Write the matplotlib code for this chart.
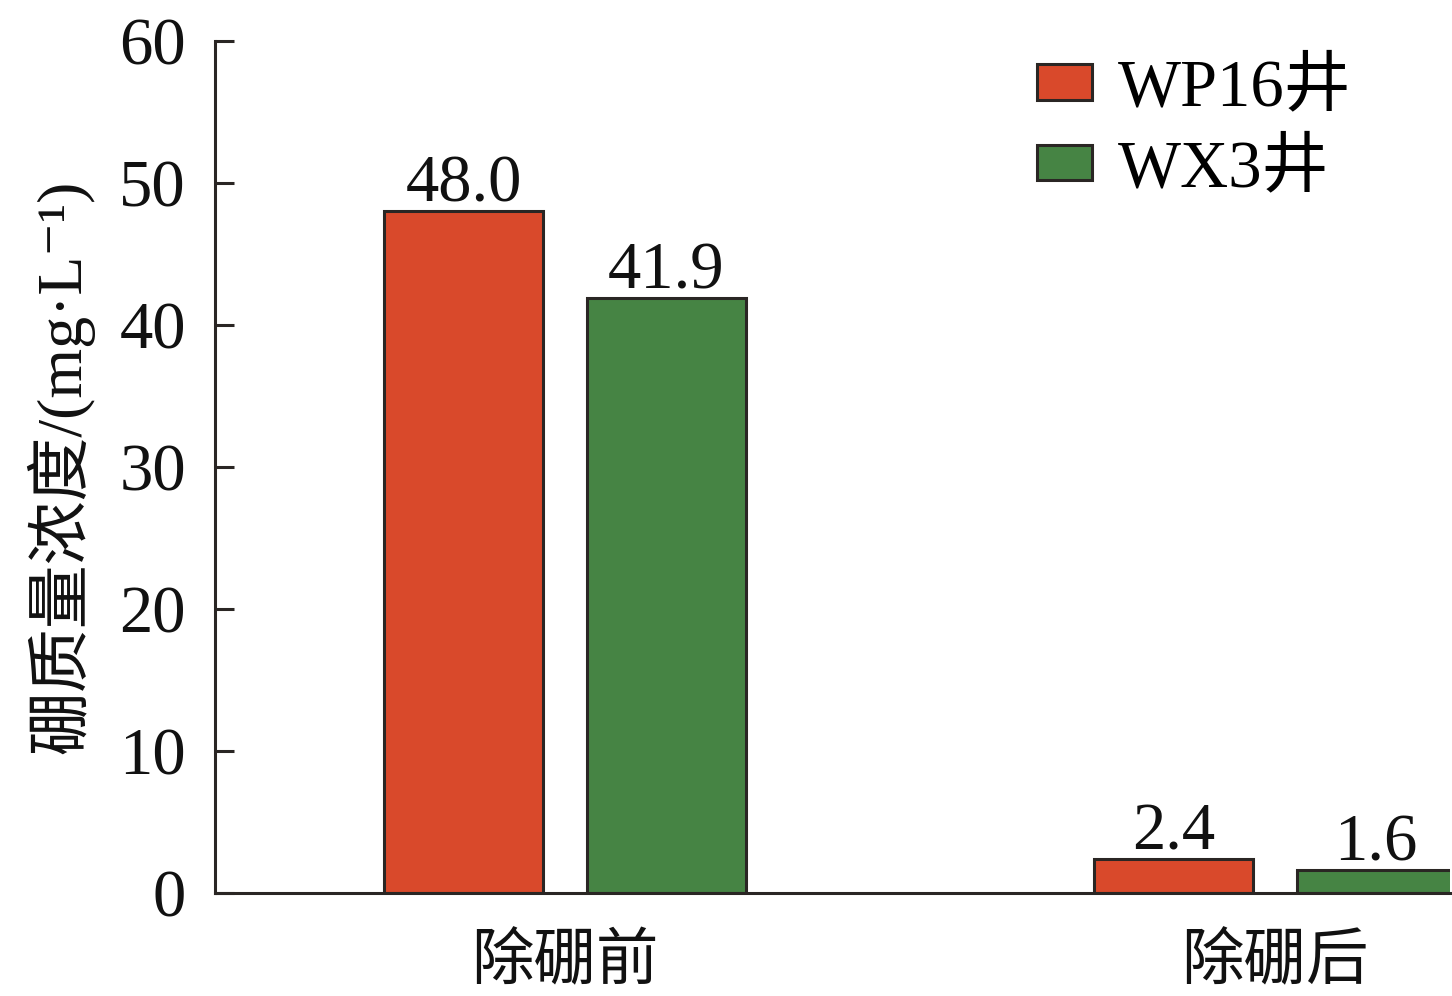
import matplotlib
matplotlib.use("Agg")
import matplotlib.pyplot as plt
import numpy as np

categories = ["除硼前", "除硼后"]
series_names = ["WP16井", "WX3井"]
wp16_values = [48.0, 2.4]
wx3_values = [41.9, 1.6]
value_labels_wp16 = ["48.0", "2.4"]
value_labels_wx3 = ["41.9", "1.6"]
yticks = [0, 10, 20, 30, 40, 50, 60]

W, H = 1452, 996
fig = plt.figure(figsize=(W / 100, H / 100), dpi=100)
ax = fig.add_axes([215 / W, (H - 893) / H, (1450 - 215) / W, (893 - 41) / H])

serif = ["Liberation Serif", "Noto Sans CJK SC", "DejaVu Serif"]
cjk = ["Noto Sans CJK SC", "Liberation Serif"]

red = "#D9492B"
green = "#468444"
edge = "#2a2624"

x = np.arange(len(categories))
bw = 0.224
off = 0.1425
b1 = ax.bar(x - off, wp16_values, bw, color=red, edgecolor=edge, linewidth=2.2, label=series_names[0])
b2 = ax.bar(x + off, wx3_values, bw, color=green, edgecolor=edge, linewidth=2.2, label=series_names[1])

for bars, labs in ((b1, value_labels_wp16), (b2, value_labels_wx3)):
    for r, t in zip(bars, labs):
        ax.annotate(t, (r.get_x() + r.get_width() / 2, r.get_height()),
                    xytext=(0, 7), textcoords="offset points",
                    ha="center", va="baseline", fontsize=48, family=serif, color="#111111")

ax.set_xlim((215 - 565) / 710, (1450 - 565) / 710)
ax.set_ylim(0, 60)
ax.set_yticks(yticks)
ax.set_yticklabels([str(v) for v in yticks], family=serif, fontsize=48, color="#111111")
ax.set_xticks(x)
ax.set_xticklabels(categories, family=cjk, fontsize=45, color="#111111")

for s in ("top", "right"):
    ax.spines[s].set_visible(False)
for s in ("left", "bottom"):
    ax.spines[s].set_linewidth(2.2)
    ax.spines[s].set_color(edge)

ax.tick_params(axis="y", direction="in", length=14, width=2.2, color=edge, pad=21)
ax.tick_params(axis="x", length=0, pad=26)

ax.set_ylabel("硼质量浓度/(mg·L⁻¹)", family=serif, fontsize=46, color="#111111")
ax.yaxis.set_label_coords(-0.098, 0.5)

leg = fig.legend(handles=[b1, b2], labels=series_names, loc="upper left",
                 bbox_to_anchor=(1037 / W, 1 - 58 / H), frameon=False,
                 prop={"family": serif, "size": 48},
                 handlelength=0.82, handleheight=0.44, handletextpad=0.4,
                 labelspacing=0.28, borderpad=0, borderaxespad=0)

fig.savefig("out.png", dpi=100)
